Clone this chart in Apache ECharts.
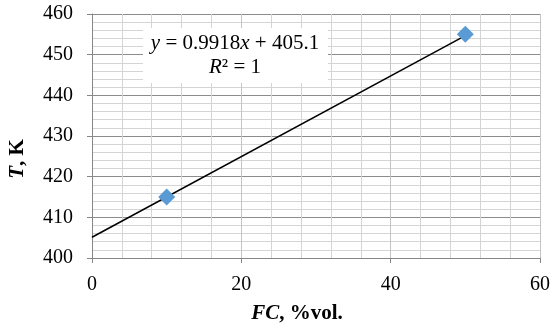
<!DOCTYPE html>
<html>
<head>
<meta charset="utf-8">
<script src="https://cdn.jsdelivr.net/npm/echarts@6/dist/echarts.min.js"></script>
<style>
  html, body { margin: 0; padding: 0; background: #fff; }
  #chart { width: 553px; height: 324px; }
</style>
</head>
<body>
<div id="chart"></div>
<script>
// measured points
var fcValues = [10, 50];
var tValues = [415, 455];
// linear trendline end points (y = 0.9918x + 405.1)
var trendX = [0, 50];
var trendY = [405.1, 454.69];
var xTicks = [0, 20, 40, 60];
var yTicks = [400, 410, 420, 430, 440, 450, 460];

var font = '"Liberation Serif", "Times New Roman", serif';

var chart = echarts.init(document.getElementById('chart'));
chart.setOption({
  backgroundColor: '#fff',
  animation: false,
  grid: { left: 92, right: 13, top: 14, bottom: 66, containLabel: false, outerBoundsMode: 'none' },
  xAxis: {
    type: 'value',
    min: xTicks[0],
    max: xTicks[xTicks.length - 1],
    interval: 20,
    axisLine: { show: true, onZero: false, lineStyle: { color: '#868686', width: 1 } },
    axisTick: { show: true, length: 5, lineStyle: { color: '#868686' } },
    axisLabel: { color: '#000', fontFamily: font, fontSize: 20, margin: 17 },
    splitLine: { show: true, lineStyle: { color: '#c4c4c4', width: 1 } },
    minorTick: { show: false, splitNumber: 5 },
    minorSplitLine: { show: true, lineStyle: { color: '#d4d4d4', width: 1 } },
    name: '{i|FC}{b|, %vol.}',
    nameLocation: 'middle',
    nameGap: 45,
    nameTextStyle: {
      padding: [0, 38, 0, 0],
      rich: {
        i: { fontFamily: font, fontSize: 21, fontWeight: 'bold', fontStyle: 'italic', color: '#000' },
        b: { fontFamily: font, fontSize: 21, fontWeight: 'bold', color: '#000' }
      }
    }
  },
  yAxis: {
    type: 'value',
    min: yTicks[0],
    max: yTicks[yTicks.length - 1],
    interval: 10,
    axisLine: { show: true, onZero: false, lineStyle: { color: '#868686', width: 1 } },
    axisTick: { show: true, length: 5, lineStyle: { color: '#868686' } },
    axisLabel: { color: '#000', fontFamily: font, fontSize: 20, margin: 19 },
    splitLine: { show: true, lineStyle: { color: '#8c8c8c', width: 1 } },
    minorTick: { show: false, splitNumber: 5 },
    minorSplitLine: { show: true, lineStyle: { color: '#d4d4d4', width: 1 } }
  },
  graphic: [
    {
      type: 'text',
      x: 18,
      y: 159,
      rotation: Math.PI / 2,
      style: {
        text: '{i|T}{b|, K}',
        align: 'center',
        verticalAlign: 'middle',
        rich: {
          i: { fontFamily: font, fontSize: 21, fontWeight: 'bold', fontStyle: 'italic', fill: '#000' },
          b: { fontFamily: font, fontSize: 21, fontWeight: 'bold', fill: '#000' }
        }
      },
      z: 11
    },
    {
      type: 'rect',
      x: 143, y: 28,
      shape: { width: 185, height: 55 },
      style: { fill: '#fff' },
      z: 10
    },
    {
      type: 'text',
      x: 235,
      y: 55,
      style: {
        text: '{i|y}{n| = 0.9918}{i|x}{n| + 405.1}\n{i|R}{n|² = 1}',
        align: 'center',
        verticalAlign: 'middle',
        lineHeight: 24,
        rich: {
          i: { fontFamily: font, fontSize: 21, fontStyle: 'italic', fill: '#000', lineHeight: 24 },
          n: { fontFamily: font, fontSize: 21, fill: '#000', lineHeight: 24 }
        }
      },
      z: 11
    }
  ],
  series: [
    {
      name: 'trend',
      type: 'line',
      data: trendX.map(function (x, i) { return [x, trendY[i]]; }),
      symbol: 'none',
      lineStyle: { color: '#000', width: 1.5 },
      z: 3
    },
    {
      name: 'T',
      type: 'scatter',
      data: fcValues.map(function (x, i) { return [x, tValues[i]]; }),
      symbol: 'diamond',
      symbolSize: [17, 17],
      itemStyle: { color: '#5b9bd5', opacity: 1 },
      z: 4
    }
  ]
});
</script>
</body>
</html>
